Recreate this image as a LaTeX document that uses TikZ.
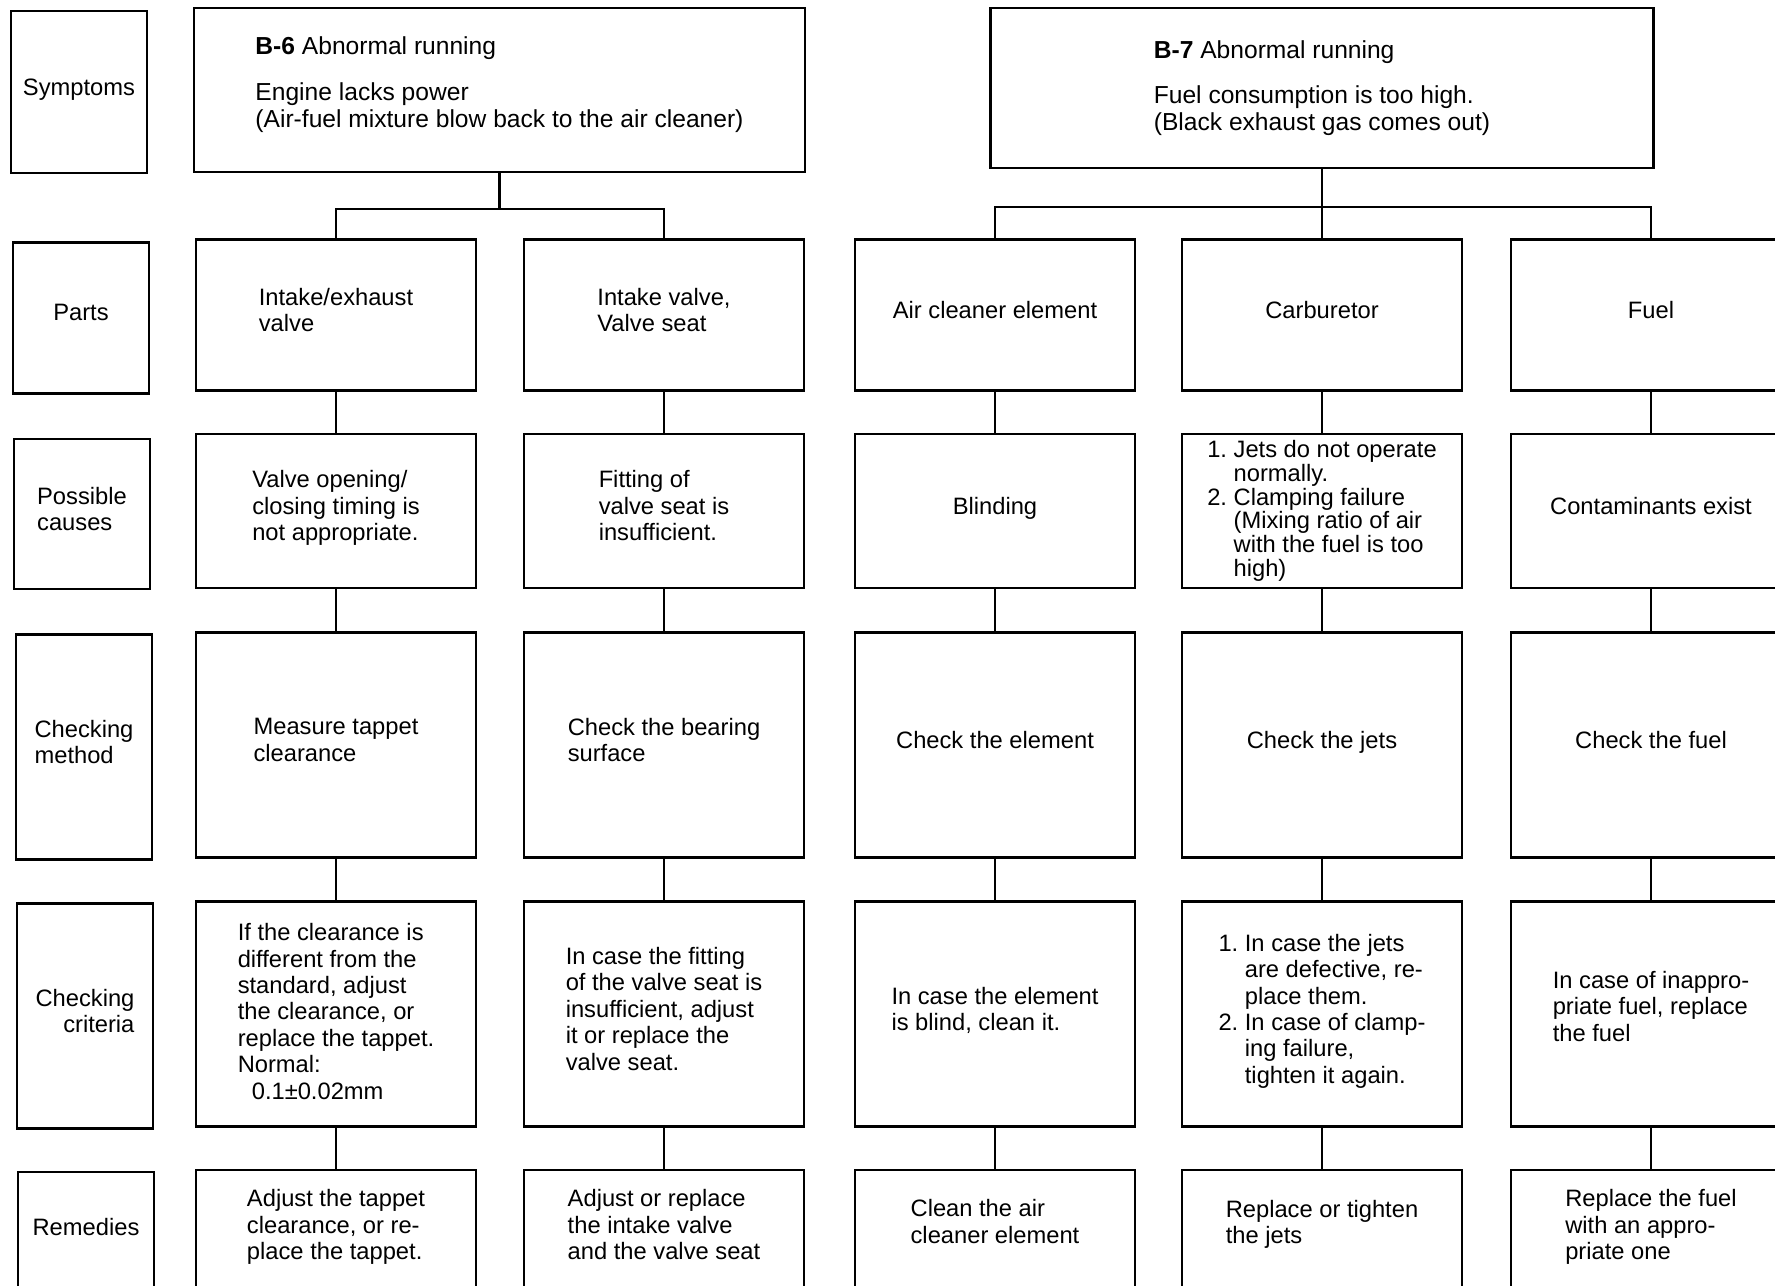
\documentclass[tikz,border=0pt]{standalone}
\usepackage{fontspec}
\setmainfont{Liberation Sans}
\newcommand{\numgap}{\phantom{1.\ }}

\begin{document}
\begin{tikzpicture}[x=0.02cm, y=-0.02cm,
  lbl/.style={rectangle, draw, line width=1.3pt, minimum width=2.72cm,
              minimum height=#1, align=center, inner sep=2pt, text depth=6pt,
              font=\fontsize{13.5}{15}\selectfont},
  cell/.style={rectangle, draw, line width=1.3pt, minimum width=5.6cm,
               minimum height=#1, align=left, inner sep=2pt, text depth=6pt,
               font=\fontsize{13.5}{15}\selectfont},
  lnk/.style={line width=1.2pt}
]
\path[use as bounding box] (0,0) rectangle (1775,1285);
\clip (0,0) rectangle (1775,1285);

% Row labels
\node[lbl=3.24cm] (sym) at (79,92) {Symptoms};
\node[lbl=3.02cm] (prt) at (81,318) {Parts};
\node[lbl=3.0cm, align=left] (cau) at (82,514) {Possible\\causes};
\node[lbl=4.5cm, align=left] (mth) at (84,747) {Checking\\method};
\node[lbl=4.5cm, align=right] (crt) at (85,1016) {Checking\\criteria};
\node[lbl=2.4cm] (rem) at (86,1232) {Remedies};

% B-6 symptom
\node[cell=3.28cm, minimum width=12.22cm, text depth=9pt,
      font=\fontsize{14}{15.5}\selectfont] (b6) at (499.5,90)
  {\textbf{B-6}\ Abnormal running\\[11pt]Engine lacks power\\(Air-fuel mixture blow back to the air cleaner)};

% B-7 symptom
\node[cell=3.2cm, minimum width=13.26cm, text depth=3pt,
      font=\fontsize{14}{15.5}\selectfont] (b7) at (1322,88)
  {\textbf{B-7}\ Abnormal running\\[10pt]Fuel consumption is too high.\\(Black exhaust gas comes out)};

% Column A: intake/exhaust valve
\node[cell=3.02cm] (a1) at (336,315) {Intake/exhaust\\valve};
\node[cell=3.08cm] (a2) at (336,511) {Valve opening/\\closing timing is\\not appropriate.};
\node[cell=4.5cm] (a3) at (336,745) {Measure tappet\\clearance};
\node[cell=4.5cm, text depth=3pt] (a4) at (336,1014) {If the clearance is\\different from the\\standard, adjust\\the clearance, or\\replace the tappet.\\Normal:\\\hspace*{8pt}0.1±0.02mm};
\node[cell=2.4cm] (a5) at (336,1230) {Adjust the tappet\\clearance, or re-\\place the tappet.};

% Column B: intake valve, valve seat
\node[cell=3.02cm] (b1) at (664,315) {Intake valve,\\Valve seat};
\node[cell=3.08cm] (b2) at (664,511) {Fitting of\\valve seat is\\insufficient.};
\node[cell=4.5cm] (b3) at (664,745) {Check the bearing\\surface};
\node[cell=4.5cm] (b4) at (664,1014) {In case the fitting\\of the valve seat is\\insufficient, adjust\\it or replace the\\valve seat.};
\node[cell=2.4cm] (b5) at (664,1230) {Adjust or replace\\the intake valve\\and the valve seat};

% Column C: air cleaner
\node[cell=3.02cm] (c1) at (995,315) {Air cleaner element};
\node[cell=3.08cm] (c2) at (995,511) {Blinding};
\node[cell=4.5cm] (c3) at (995,745) {Check the element};
\node[cell=4.5cm] (c4) at (995,1014) {In case the element\\is blind, clean it.};
\node[cell=2.4cm, text depth=10pt] (c5) at (995,1230) {Clean the air\\cleaner element};

% Column D: carburetor
\node[cell=3.02cm] (d1) at (1322,315) {Carburetor};
\node[cell=3.08cm, text depth=3pt, font=\fontsize{13.5}{13.6}\selectfont] (d2) at (1322,511)
  {1.\ Jets do not operate\\\numgap normally.\\2.\ Clamping failure\\\numgap (Mixing ratio of air\\\numgap with the fuel is too\\\numgap high)};
\node[cell=4.5cm] (d3) at (1322,745) {Check the jets};
\node[cell=4.5cm] (d4) at (1322,1014) {1.\ In case the jets\\\numgap are defective, re-\\\numgap place them.\\2.\ In case of clamp-\\\numgap ing failure,\\\numgap tighten it again.};
\node[cell=2.4cm, text depth=9pt] (d5) at (1322,1230) {Replace or tighten\\the jets};

% Column E: fuel
\node[cell=3.02cm] (e1) at (1651,315) {Fuel};
\node[cell=3.08cm] (e2) at (1651,511) {Contaminants exist};
\node[cell=4.5cm] (e3) at (1651,745) {Check the fuel};
\node[cell=4.5cm, text depth=9pt] (e4) at (1651,1014) {In case of inappro-\\priate fuel, replace\\the fuel};
\node[cell=2.4cm] (e5) at (1651,1230) {Replace the fuel\\with an appro-\\priate one};

% Branches
\coordinate (b6j) at (499.5,209);
\coordinate (b7j) at (1322,207);
\draw[lnk] (b6.south) -- (b6j);
\draw[lnk] (a1.north) |- (b6j) -| (b1.north);
\draw[lnk] (b7.south) -- (d1.north);
\draw[lnk] (c1.north) |- (b7j) -| (e1.north);

% Column links
\draw[lnk] (a1) -- (a2) (a2) -- (a3) (a3) -- (a4) (a4) -- (a5);
\draw[lnk] (b1) -- (b2) (b2) -- (b3) (b3) -- (b4) (b4) -- (b5);
\draw[lnk] (c1) -- (c2) (c2) -- (c3) (c3) -- (c4) (c4) -- (c5);
\draw[lnk] (d1) -- (d2) (d2) -- (d3) (d3) -- (d4) (d4) -- (d5);
\draw[lnk] (e1) -- (e2) (e2) -- (e3) (e3) -- (e4) (e4) -- (e5);
\end{tikzpicture}
\end{document}
